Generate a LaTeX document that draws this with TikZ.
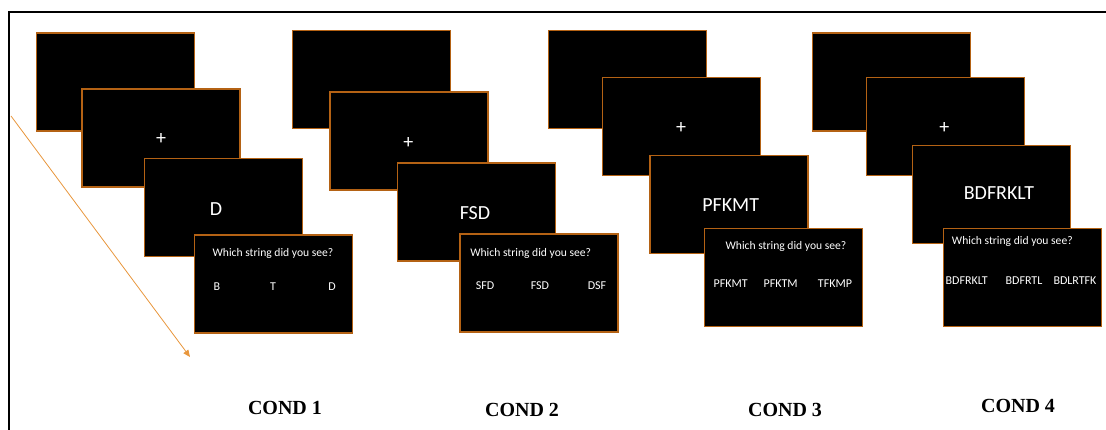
\documentclass[tikz,border=0pt]{standalone}
\usepackage{fontspec}
\setmainfont{Liberation Serif}
\newfontfamily\scrfont{Carlito}
\usetikzlibrary{arrows.meta}
\definecolor{rim}{RGB}{180,98,20}
\definecolor{arrowor}{RGB}{232,150,60}
\tikzset{
  screen/.style={draw=rim, line width=1.4pt, fill=black, minimum width=158pt, minimum height=98pt, inner sep=0pt},
  stim/.style={text=white, font=\scrfont\fontsize{20}{22}\selectfont, inner sep=0pt},
  fix/.style={text=white, font=\scrfont\fontsize{20}{22}\selectfont, inner sep=0pt},
  ask/.style={text=white, font=\scrfont\fontsize{11.6}{13}\selectfont, inner sep=0pt},
  opt/.style={text=white, font=\scrfont\fontsize{12}{14}\selectfont, inner sep=0pt},
  cond/.style={font=\bfseries\fontsize{20}{22}\selectfont, inner sep=0pt},
}
\begin{document}
\begin{tikzpicture}[x=1pt,y=1pt]
\useasboundingbox (0,0) rectangle (1106,430);
% outer frame (runs off the right and bottom edges)
\draw[line width=2pt] (9,-5) -- (9,418) -- (1115,418);

% time arrow
\coordinate (tstart) at (11,314);
\coordinate (tend) at (190,73);
\draw[arrowor, line width=0.8pt, -{Triangle[length=7pt,width=6pt]}] (tstart) -- (tend);

% ---- condition 1 ----
\node[screen] (c1a) at (115.2,348) {};
\node[screen] (c1b) at (161,292) {};
\node[screen] (c1c) at (223.5,222.3) {};
\node[screen] (c1d) at (273.7,146) {};
\node[fix] (c1plus) at (161,290.7) {+};
\node[stim] (c1s) at (216,221) {D};
\node[ask] (c1q) at (273,177) {Which string did you see?};
\node[opt] (c1o1) at (217,143) {B};
\node[opt] (c1o2) at (273,143) {T};
\node[opt] (c1o3) at (332,143) {D};

% ---- condition 2 ----
\node[screen] (c2a) at (371.2,350.5) {};
\node[screen] (c2b) at (408.8,288.8) {};
\node[screen] (c2c) at (476.7,218) {};
\node[screen] (c2d) at (538.8,147) {};
\node[fix] (c2plus) at (408.3,287.3) {+};
\node[stim] (c2s) at (475,217.3) {FSD};
\node[ask] (c2q) at (530.7,176.7) {Which string did you see?};
\node[opt] (c2o1) at (485,144.3) {SFD};
\node[opt] (c2o2) at (540,144.3) {FSD};
\node[opt] (c2o3) at (597,144.3) {DSF};

% ---- condition 3 ----
\node[screen] (c3a) at (627.5,350.3) {};
\node[screen] (c3b) at (681.5,303.3) {};
\node[screen] (c3c) at (729,225.7) {};
\node[screen] (c3d) at (783.2,152.5) {};
\node[fix] (c3plus) at (681,302.3) {+};
\node[stim] (c3s) at (730.7,225) {PFKMT};
\node[ask] (c3q) at (786,183.3) {Which string did you see?};
\node[opt] (c3o1) at (730.7,146.7) {PFKMT};
\node[opt] (c3o2) at (780.7,146.7) {PFKTM};
\node[opt] (c3o3) at (835,146.7) {TFKMP};

% ---- condition 4 ----
\node[screen] (c4a) at (891.3,347.8) {};
\node[screen] (c4b) at (945.5,303.3) {};
\node[screen] (c4c) at (991.7,235.2) {};
\node[screen] (c4d) at (1022.5,152.2) {};
\node[fix] (c4plus) at (944.3,302.3) {+};
\node[stim] (c4s) at (999,236.7) {BDFRKLT};
\node[ask] (c4q) at (1012.3,188.3) {Which string did you see?};
\node[opt] (c4o1) at (966.7,149) {BDFRKLT};
\node[opt] (c4o2) at (1024,149) {BDFRTL};
\node[opt] (c4o3) at (1075,149) {BDLRTFK};

% condition labels
\node[cond] (l1) at (285,22) {COND 1};
\node[cond] (l2) at (522,20) {COND 2};
\node[cond] (l3) at (785,20) {COND 3};
\node[cond] (l4) at (1018,24) {COND 4};
\end{tikzpicture}
\end{document}
